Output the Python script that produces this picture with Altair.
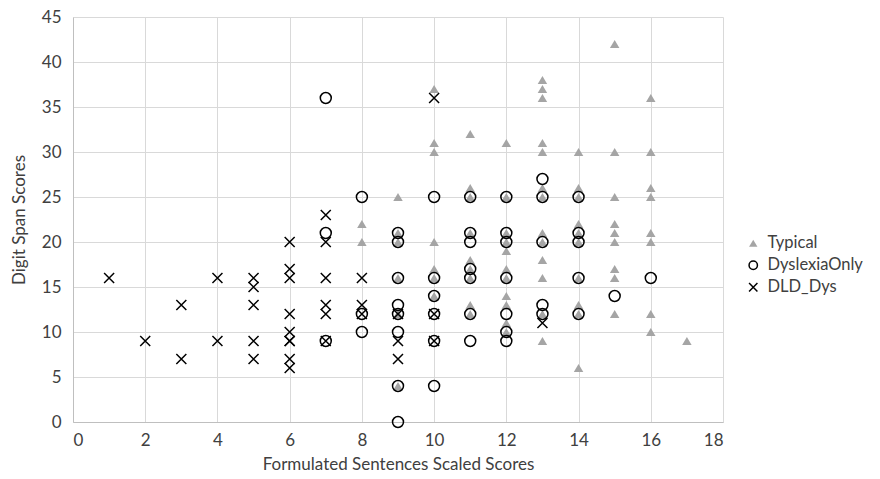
import altair as alt
import pandas as pd

# Typical (triangles)
typ_x = [8, 8,
         9, 9, 9, 9, 9, 9,
         10, 10, 10, 10, 10, 10, 10,
         11, 11, 11, 11, 11, 11, 11, 11, 11,
         12, 12, 12, 12, 12, 12, 12, 12, 12, 12, 12,
         13, 13, 13, 13, 13, 13, 13, 13, 13, 13, 13, 13, 13,
         14, 14, 14, 14, 14, 14, 14, 14, 14, 14,
         15, 15, 15, 15, 15, 15, 15, 15, 15,
         16, 16, 16, 16, 16, 16, 16, 16,
         17]
typ_y = [22, 20,
         25, 21, 20, 16, 12, 4,
         37, 31, 30, 20, 17, 16, 14,
         32, 26, 25, 21, 18, 17, 16, 13, 12,
         31, 25, 21, 20, 19, 17, 16, 14, 13, 11, 10,
         38, 37, 36, 31, 30, 26, 25, 21, 20, 18, 16, 12, 9,
         30, 26, 25, 22, 21, 20, 16, 13, 12, 6,
         42, 30, 25, 22, 21, 20, 17, 16, 12,
         36, 30, 26, 25, 21, 20, 12, 10,
         9]

# DyslexiaOnly (circles)
dys_x = [7, 7, 7,
         8, 8, 8,
         9, 9, 9, 9, 9, 9, 9, 9,
         10, 10, 10, 10, 10, 10,
         11, 11, 11, 11, 11, 11, 11,
         12, 12, 12, 12, 12, 12, 12,
         13, 13, 13, 13, 13,
         14, 14, 14, 14, 14,
         15, 16]
dys_y = [36, 21, 9,
         25, 12, 10,
         21, 20, 16, 13, 12, 10, 4, 0,
         25, 16, 14, 12, 9, 4,
         25, 21, 20, 17, 16, 12, 9,
         25, 21, 20, 16, 12, 10, 9,
         27, 25, 20, 13, 12,
         25, 21, 20, 16, 12,
         14, 16]

# DLD_Dys (crosses)
dld_x = [1, 2, 3, 3, 4, 4,
         5, 5, 5, 5, 5,
         6, 6, 6, 6, 6, 6, 6, 6, 6,
         7, 7, 7, 7, 7, 7,
         8, 8, 8,
         9, 9, 9,
         10, 10, 10,
         13]
dld_y = [16, 9, 13, 7, 16, 9,
         16, 15, 13, 9, 7,
         20, 17, 16, 12, 10, 9, 9, 7, 6,
         23, 20, 16, 13, 12, 9,
         16, 13, 12,
         12, 9, 7,
         36, 12, 9,
         11]

groups = ["Typical", "DyslexiaOnly", "DLD_Dys"]

df = pd.concat([
    pd.DataFrame({"x": typ_x, "y": typ_y, "g": "Typical"}),
    pd.DataFrame({"x": dys_x, "y": dys_y, "g": "DyslexiaOnly"}),
    pd.DataFrame({"x": dld_x, "y": dld_y, "g": "DLD_Dys"}),
], ignore_index=True)

FONT = "Lato, sans-serif"
XPATH = "M-1,-1L1,1M-1,1L1,-1"
TXT = "#404040"

leg = alt.Legend(title=None, orient="none", legendX=672, legendY=218,
                 labelFontSize=16.5, labelFont=FONT, labelColor=TXT,
                 symbolSize=70, rowPadding=5, labelOffset=6,
                 symbolStrokeWidth=1.5)

base = alt.Chart(df).encode(
    x=alt.X("x:Q", title="Formulated Sentences Scaled Scores",
            scale=alt.Scale(domain=[0, 18], nice=False),
            axis=alt.Axis(values=list(range(0, 19, 2)), grid=True)),
    y=alt.Y("y:Q", title="Digit Span Scores",
            scale=alt.Scale(domain=[0, 45], nice=False),
            axis=alt.Axis(values=list(range(0, 46, 5)), grid=True)),
    shape=alt.Shape("g:N", scale=alt.Scale(domain=groups,
                    range=["triangle-up", "circle", XPATH]), legend=leg),
    fill=alt.Fill("g:N", scale=alt.Scale(domain=groups,
                  range=["#a5a5a5", "transparent", "transparent"]), legend=leg),
    stroke=alt.Stroke("g:N", scale=alt.Scale(domain=groups,
                      range=["transparent", "#000000", "#000000"]), legend=leg),
)

sizes = {"Typical": 90, "DyslexiaOnly": 120, "DLD_Dys": 100}
layers = [
    base.transform_filter(alt.datum.g == g).mark_point(
        size=sizes[g], strokeWidth=1.5, opacity=1)
    for g in groups
]

chart = alt.layer(*layers).properties(
    width=650, height=405,
    autosize=alt.AutoSizeParams(type="none"),
    padding={"left": 73, "top": 17, "right": 157, "bottom": 57},
).configure_axis(
    labelFont=FONT, titleFont=FONT, labelFontSize=17, titleFontSize=17,
    labelColor=TXT, titleColor=TXT, titleFontWeight="normal",
    gridColor="#d9d9d9", gridWidth=1, domainColor="#bfbfbf", domainWidth=1,
    ticks=False,
).configure_axisX(
    labelPadding=10, titlePadding=8,
).configure_axisY(
    labelPadding=12, titlePadding=13,
).configure_view(stroke=None)

chart.save("out.html", embed_options={"renderer": "svg", "actions": False})
